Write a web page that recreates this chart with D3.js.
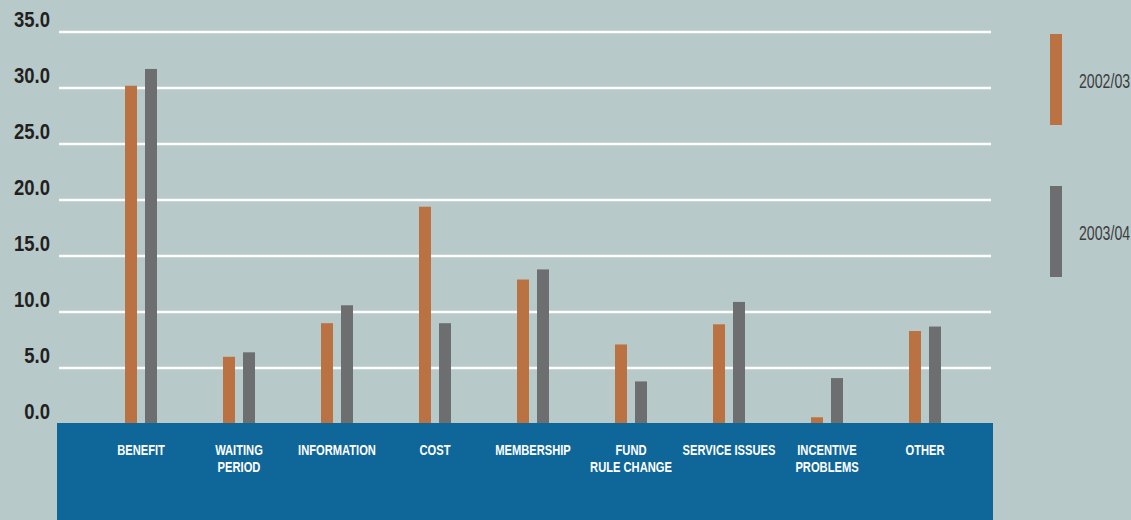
<!DOCTYPE html>
<html>
<head>
<meta charset="utf-8">
<script src="https://cdn.jsdelivr.net/npm/d3@7"></script>
<style>
html,body{margin:0;padding:0;background:#b7c9c9;overflow:hidden;}
svg{display:block;}
</style>
</head>
<body>
<svg id="chart" width="1131" height="520"></svg>
<script>
const categories = [["BENEFIT"],["WAITING","PERIOD"],["INFORMATION"],["COST"],["MEMBERSHIP"],["FUND","RULE CHANGE"],["SERVICE ISSUES"],["INCENTIVE","PROBLEMS"],["OTHER"]];
const seriesNames = ["2002/03","2003/04"];
const values2002 = [30.2, 6.0, 9.0, 19.4, 12.9, 7.1, 8.9, 0.6, 8.3];
const values2003 = [31.7, 6.4, 10.6, 9.0, 13.8, 3.8, 10.9, 4.1, 8.7];
const yTicks = [0, 5, 10, 15, 20, 25, 30, 35];

const colors = ["#bb7242", "#6d6e70"];
const FONT = "'Liberation Sans Narrow','Arial Narrow','Liberation Sans',sans-serif";

const svg = d3.select("#chart");
svg.append("rect").attr("width",1131).attr("height",520).attr("fill","#b7c9c9");

const keys = categories.map(c => c.join(" "));
const x0 = d3.scaleBand().domain(keys).range([92, 974]).padding(0);
const x1 = d3.scaleBand().domain(seriesNames).range([0, 32]).paddingInner(0.4).paddingOuter(0);
const y = d3.scaleLinear().domain([0, 35]).range([424, 32]);

// gridlines
svg.append("g").selectAll("line").data(yTicks.filter(t => t > 0)).join("line")
  .attr("x1", 59).attr("x2", 991)
  .attr("y1", d => y(d)).attr("y2", d => y(d))
  .attr("stroke", "#ffffff").attr("stroke-width", 2.4);

// y tick labels
svg.append("g").selectAll("text").data(yTicks).join("text")
  .attr("transform", d => `translate(50,${y(d) - 5}) scale(0.86,1)`)
  .attr("text-anchor", "end")
  .attr("font-family", FONT).attr("font-weight", "bold").attr("font-size", 21.5)
  .attr("fill", "#231f20")
  .text(d => d3.format(".1f")(d));

// bars
const data = keys.map((k, i) => ({k, vals: [values2002[i], values2003[i]]}));
const groups = svg.append("g").selectAll("g").data(data).join("g")
  .attr("transform", d => `translate(${x0(d.k) + x0.bandwidth()/2 - 16},0)`);
groups.selectAll("rect").data(d => d.vals.map((v, j) => ({v, s: seriesNames[j], j}))).join("rect")
  .attr("x", d => x1(d.s)).attr("width", x1.bandwidth())
  .attr("y", d => y(d.v)).attr("height", d => y(0) - y(d.v))
  .attr("fill", d => colors[d.j]);

// blue band
svg.append("rect").attr("x", 57).attr("y", 423).attr("width", 936).attr("height", 97).attr("fill", "#0f6699");

// category labels
const lab = svg.append("g").selectAll("g").data(categories).join("g")
  .attr("transform", (d, i) => `translate(${x0(keys[i]) + x0.bandwidth()/2},455)`);
lab.each(function(lines){
  const g = d3.select(this);
  lines.forEach((t, li) => {
    g.append("text")
      .attr("transform", `translate(0,${li*16.5}) scale(0.73,1)`)
      .attr("text-anchor", "middle")
      .attr("font-family", FONT).attr("font-weight", "bold").attr("font-size", 15.3)
      .attr("fill", "#ffffff")
      .text(t);
  });
});

// legend
const leg = svg.append("g").selectAll("g").data(seriesNames).join("g")
  .attr("transform", (d, i) => `translate(1050,${34 + i*152})`);
leg.append("rect").attr("width", 12).attr("height", 91).attr("fill", (d, i) => colors[i]);
leg.append("text")
  .attr("transform", "translate(29,54) scale(0.69,1)")
  .attr("font-family", FONT).attr("font-size", 20.5)
  .attr("fill", "#3d3d3f")
  .text(d => d);
</script>
</body>
</html>
